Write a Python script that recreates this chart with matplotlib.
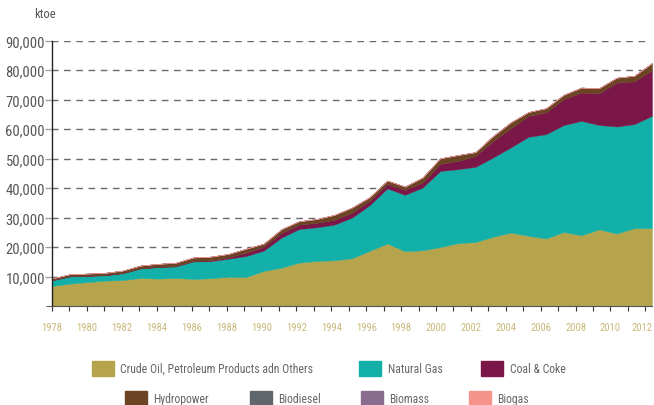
import matplotlib
matplotlib.use("Agg")
import matplotlib.pyplot as plt
import numpy as np
from matplotlib import font_manager
from matplotlib.patches import Rectangle
from matplotlib.transforms import ScaledTranslation

names = {f.name for f in font_manager.fontManager.ttflist}
FONT = next((n for n in ["Roboto Condensed", "Archivo Narrow", "PT Sans Narrow",
                         "Liberation Sans Narrow", "Barlow Condensed"] if n in names), "DejaVu Sans")
plt.rcParams['font.family'] = [FONT, 'DejaVu Sans']

years = list(range(1978, 2013))

# ktoe
crude = [6800, 7600, 8100, 8600, 8800, 9500, 9300, 9500, 9200, 9400,
         9950, 9850, 11900, 13000, 14700, 15300, 15500, 16200, 18700, 21200,
         18600, 18900, 20000, 21300, 21700, 23500, 24900, 23800, 22900, 25100,
         24000, 26000, 24600, 26400, 26400]
gas = [1900, 2400, 2100, 1800, 2300, 3200, 3900, 3900, 5900, 5800,
       6100, 7100, 6900, 10200, 11400, 11400, 12100, 13800, 15500, 18700,
       19100, 21300, 25800, 25100, 25500, 26900, 28900, 33600, 35400, 36300,
       38800, 35400, 36300, 35300, 38100]
coal = [100, 100, 100, 100, 100, 100, 100, 150, 200, 300,
        450, 1150, 1300, 1600, 1500, 1500, 1600, 1700, 1460, 1460,
        1700, 1700, 2400, 2800, 3700, 5600, 6500, 7100, 7400, 8800,
        9600, 10800, 14900, 14500, 15500]
hydro = [550, 650, 700, 750, 800, 900, 1000, 1100, 1150, 1250,
         1150, 1350, 1050, 1250, 1150, 1300, 1700, 1700, 1250, 1200,
         1100, 1700, 1900, 2000, 1300, 1700, 2000, 1300, 1400, 1450,
         1700, 1700, 1650, 1900, 2400]
biodiesel = [0] * 35
biomass = [0] * 35
biogas = [0] * 35

labels = ["Crude Oil, Petroleum Products adn Others", "Natural Gas", "Coal & Coke",
          "Hydropower", "Biodiesel", "Biomass", "Biogas"]
colors = ["#b5a44c", "#12b0a8", "#7a1648", "#6b4423", "#5f666c", "#8a6d8e", "#f4948a"]
series = [crude, gas, coal, hydro, biodiesel, biomass, biogas]

fig = plt.figure(figsize=(6.54, 4.06), dpi=100)
ax = fig.add_axes([52 / 654, 1 - 307 / 406, 600 / 654, (307 - 41.7) / 406])

idx = np.arange(len(years))
polys = ax.stackplot(idx, *series, colors=colors, linewidth=0.3)
for p, c in zip(polys, colors):
    p.set_edgecolor(c)

ax.set_xlim(0, len(years) - 1)
ax.set_ylim(0, 90000)

yt = np.arange(10000, 90001, 10000)
ax.hlines(yt, 0, 33.6, colors="#6a6a6a", linestyles=(0.5, (4.8, 4.0)), linewidth=1.0, zorder=0)
ax.set_yticks(yt)
ax.set_yticklabels([f"{v:,}" for v in yt], fontsize=10.5, color="#555555")
ax.set_yticks([0], minor=True)
ax.tick_params(axis="y", which="major", length=5, width=1.0, color="#a0a0a0", pad=0)
ax.tick_params(axis="y", which="minor", length=4, color="#333333")

# ticks drawn a touch tighter than the data spacing, as in the source
tick_pos = idx * 0.989
ax.set_xticks(tick_pos)
ax.set_xticklabels([str(y) if (y - 1978) % 2 == 0 else "" for y in years],
                   fontsize=7.7, color="#c9b97c")
ax.tick_params(axis="x", length=3.5, width=0.8, color="#333333", pad=8)
last = ax.get_xticklabels()[-1]
last.set_transform(last.get_transform() + ScaledTranslation(-0.03, 0, fig.dpi_scale_trans))

for s in ["top", "right"]:
    ax.spines[s].set_visible(False)
ax.spines["left"].set_color("#222222")
ax.spines["bottom"].set_color("#555555")
ax.spines["left"].set_linewidth(1.0)
ax.spines["bottom"].set_linewidth(0.8)

fig.text(34 / 654, 1 - 14 / 406, "ktoe", fontsize=9, color="#555555", va="center", ha="left")

# legend, two rows
leg = [(92, 369.5, 0), (359, 369.5, 1), (481, 369.5, 2),
       (125, 399.5, 3), (250, 399.5, 4), (361, 399.5, 5), (469, 399.5, 6)]
W, H = 654, 406
for x, y, i in leg:
    fig.patches.append(Rectangle((x / W, 1 - (y + 7.5) / H), 22 / W, 15 / H,
                                 transform=fig.transFigure, color=colors[i]))
    fig.text((x + 28.5) / W, 1 - y / H, labels[i], fontsize=8.5, color="#666666",
             va="center", ha="left")

fig.savefig("out.png", dpi=100)
